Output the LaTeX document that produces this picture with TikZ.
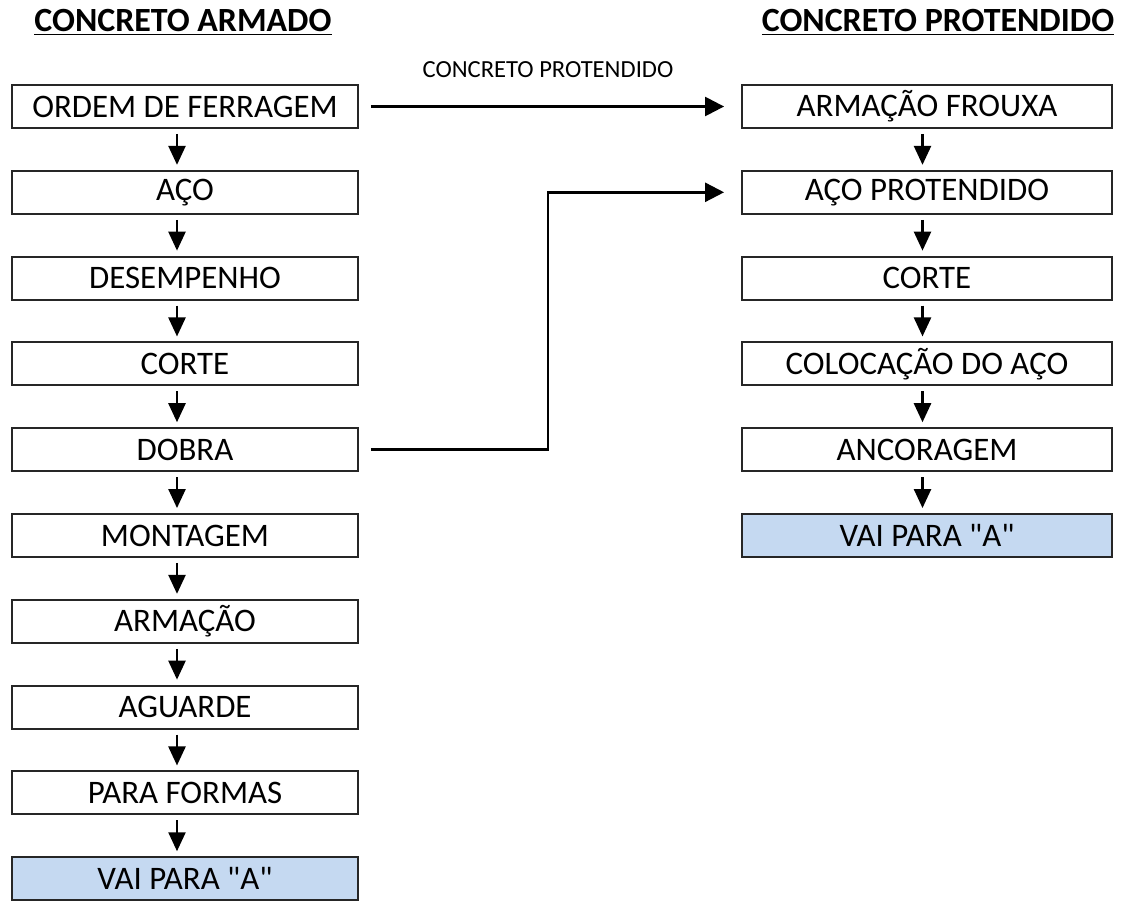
\documentclass[tikz,border=0pt]{standalone}
\usepackage{fontspec}
\setmainfont{Carlito}
\usepackage{xcolor}
\usepackage{tikz}
\usetikzlibrary{arrows.meta}

\definecolor{goblue}{RGB}{197,217,241}

\begin{document}
\begin{tikzpicture}[
        x=0.02cm, y=-0.02cm,
        box/.style={rectangle, draw=black!85, line width=1.1pt, fill=white, minimum width=6.92cm, minimum height=0.86cm, inner sep=0pt, font=\fontsize{18.7}{22}\selectfont},
        widebox/.style={box, minimum width=7.4cm},
        gobox/.style={fill=goblue},
        header/.style={font=\bfseries\fontsize{19.3}{23}\selectfont},
        note/.style={font=\fontsize{14}{16}\selectfont},
        flow/.style={-{Triangle[length=0.38cm,width=0.34cm]}, line width=1.4pt, shorten <=0.1cm, shorten >=0.1cm},
        flowleft/.style={flow, transform canvas={xshift=-0.16cm}},
        flowright/.style={flow, transform canvas={xshift=-0.09cm}},
        link/.style={-{Triangle[length=0.38cm,width=0.38cm]}, line width=1.4pt, shorten <=0.24cm, shorten >=0.34cm}
    ]
        \useasboundingbox (0,0) rectangle (1123,900);

        % Headers
        \node[header] (armado) at (183,22) {\underline{CONCRETO ARMADO}};
        \node[header] (protendido) at (938,22) {\underline{CONCRETO PROTENDIDO}};

        % Concreto armado
        \node[box] (ordem) at (185,106.5) {ORDEM DE FERRAGEM};
        \node[box] (aco) at (185,192.3) {AÇO};
        \node[box] (desemp) at (185,278.1) {DESEMPENHO};
        \node[box] (corte) at (185,363.9) {CORTE};
        \node[box] (dobra) at (185,449.7) {DOBRA};
        \node[box] (montagem) at (185,535.5) {MONTAGEM};
        \node[box] (armacao) at (185,621.3) {ARMAÇÃO};
        \node[box] (aguarde) at (185,707.1) {AGUARDE};
        \node[box] (formas) at (185,792.9) {PARA FORMAS};
        \node[box, gobox] (vaiA) at (185,878.7) {VAI PARA \textquotedbl A\textquotedbl};

        % Concreto protendido
        \node[widebox] (frouxa) at (927,106.5) {ARMAÇÃO FROUXA};
        \node[widebox] (acoprot) at (927,192.3) {AÇO PROTENDIDO};
        \node[widebox] (corteprot) at (927,278.1) {CORTE};
        \node[widebox] (colocacao) at (927,363.9) {COLOCAÇÃO DO AÇO};
        \node[widebox] (ancoragem) at (927,449.7) {ANCORAGEM};
        \node[widebox, gobox] (vaiB) at (927,535.5) {VAI PARA \textquotedbl A\textquotedbl};

        % Arrows
        \draw[flowleft] (ordem) -- (aco);
        \draw[flowleft] (aco) -- (desemp);
        \draw[flowleft] (desemp) -- (corte);
        \draw[flowleft] (corte) -- (dobra);
        \draw[flowleft] (dobra) -- (montagem);
        \draw[flowleft] (montagem) -- (armacao);
        \draw[flowleft] (armacao) -- (aguarde);
        \draw[flowleft] (aguarde) -- (formas);
        \draw[flowleft] (formas) -- (vaiA);

        \draw[flowright] (frouxa) -- (acoprot);
        \draw[flowright] (acoprot) -- (corteprot);
        \draw[flowright] (corteprot) -- (colocacao);
        \draw[flowright] (colocacao) -- (ancoragem);
        \draw[flowright] (ancoragem) -- (vaiB);

        % Links between columns
        \coordinate (bend) at (548,0);
        \draw[link] (ordem.east) -- (frouxa.west);
        \draw[link] (dobra.east) -- (dobra.east -| bend) |- (acoprot.west);

        % Labels
        \node[note] (protlabel) at (548,70) {CONCRETO PROTENDIDO};
    \end{tikzpicture}
\end{document}
